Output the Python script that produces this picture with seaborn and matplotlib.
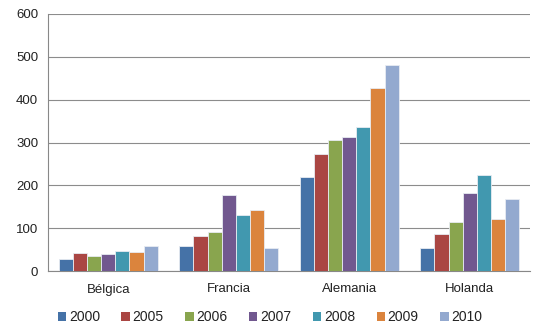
import matplotlib
matplotlib.use("Agg")
import matplotlib.pyplot as plt
import seaborn as sns
import pandas as pd
from matplotlib.patches import Patch

paises = ["Bélgica", "Francia", "Alemania", "Holanda"]
anios = ["2000", "2005", "2006", "2007", "2008", "2009", "2010"]
valores = {
    "2000": [27, 59, 219, 54],
    "2005": [41, 82, 272, 86],
    "2006": [34, 91, 307, 114],
    "2007": [39, 177, 312, 181],
    "2008": [46, 131, 336, 224],
    "2009": [44, 142, 427, 121],
    "2010": [59, 53, 481, 169],
}
colores = ["#4572A7", "#AA4643", "#89A54E", "#71588F", "#4198AF", "#DB843D", "#93A9CF"]
yticks = [0, 100, 200, 300, 400, 500, 600]

filas = [(p, a, valores[a][i]) for a in anios for i, p in enumerate(paises)]
df = pd.DataFrame(filas, columns=["pais", "anio", "valor"])

sns.set_theme(style="white")
plt.rcParams["font.family"] = ["Liberation Sans", "DejaVu Sans"]

fig = plt.figure(figsize=(5.4, 3.34), dpi=100)
ax = fig.add_axes([48 / 540, 1 - 271 / 334, (530 - 48) / 540, (271 - 14) / 334])

sns.barplot(data=df, x="pais", y="valor", hue="anio", order=paises, hue_order=anios,
            palette=colores, width=0.82, gap=0, saturation=1, edgecolor="#e8ecf2",
            linewidth=0.6, ax=ax, legend=False, zorder=3)

ax.set_ylim(0, 600)
ax.set_xlim(-0.5, len(paises) - 0.5)
ax.set_yticks(yticks)
ax.set_yticklabels([str(v) for v in yticks], fontsize=9.5, color="#222222")
ax.set_xlabel("")
ax.set_ylabel("")
ax.tick_params(axis="x", which="major", length=0, labelsize=9.5, labelcolor="#222222", pad=9)
ax.set_xticks([i - 0.5 for i in range(len(paises) + 1)], minor=True)
ax.tick_params(axis="x", which="minor", length=4, color="#888888", width=0.8, direction="out")
ax.tick_params(axis="y", length=4, color="#888888", width=0.8, direction="out", pad=3)
ax.yaxis.grid(True, color="#8c8c8c", linewidth=0.8, zorder=0)
ax.set_axisbelow(True)
for s in ["top", "right"]:
    ax.spines[s].set_visible(False)
for s in ["left", "bottom"]:
    ax.spines[s].set_color("#888888")
    ax.spines[s].set_linewidth(0.8)

handles = [Patch(facecolor=c, edgecolor="none", label=a) for a, c in zip(anios, colores)]
fig.legend(handles=handles, loc="center", bbox_to_anchor=(0.5, 1 - 317 / 334), ncol=7,
           frameon=False, fontsize=10, handlelength=0.6, handleheight=0.6,
           handletextpad=0.2, columnspacing=1.55, labelcolor="#222222")

fig.savefig("out.png", dpi=100)
